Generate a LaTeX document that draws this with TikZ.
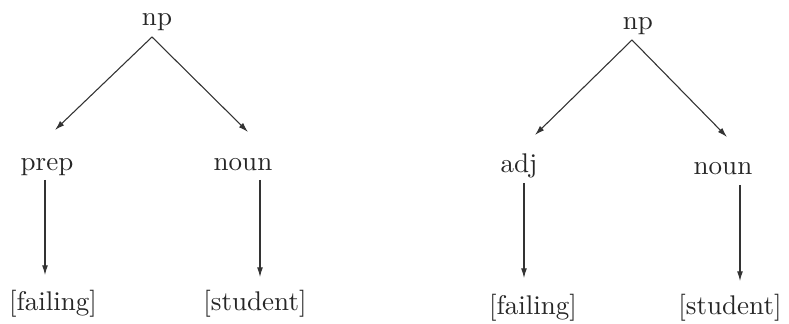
\documentclass[tikz,border=0pt]{standalone}
\usetikzlibrary{arrows.meta}
\begin{document}
\begin{tikzpicture}[x=0.37pt,y=-0.37pt,
  lbl/.style={anchor=base,inner sep=0pt,font=\fontsize{10}{12}\selectfont,text=black!85},
  arr/.style={draw=black!80,line width=0.4pt,-{Latex[length=3.6pt,width=2.2pt]}}]
\useasboundingbox (0,0) rectangle (789,324);

% left tree
\node[lbl] (np1)   at (157,26)  {np};
\node[lbl] (prep)  at (47,171)  {prep};
\node[lbl] (noun1) at (243,171) {noun};
\node[lbl] (fail1) at (53,311)  {[failing]};
\node[lbl] (stud1) at (255,311) {[student]};

\draw[arr] ([shift={(-5,11)}]np1.base) -- ([shift={(8,-41)}]prep.base);
\draw[arr] ([shift={(-5,11)}]np1.base) -- ([shift={(5,-39)}]noun1.base);
\draw[arr] ([shift={(-2,9)}]prep.base) -- ([shift={(-8,-36)}]fail1.base);
\draw[arr] ([shift={(17,9)}]noun1.base) -- ([shift={(5,-34)}]stud1.base);

% right tree
\node[lbl] (np2)   at (638,30)  {np};
\node[lbl] (adj)   at (519,173) {adj};
\node[lbl] (noun2) at (723,175) {noun};
\node[lbl] (fail2) at (533,315) {[failing]};
\node[lbl] (stud2) at (730,315) {[student]};

\draw[arr] ([shift={(-6,10)}]np2.base) -- ([shift={(16,-38)}]adj.base);
\draw[arr] ([shift={(-6,10)}]np2.base) -- ([shift={(4,-38)}]noun2.base);
\draw[arr] ([shift={(5,10)}]adj.base) -- ([shift={(-9,-37)}]fail2.base);
\draw[arr] ([shift={(17,10)}]noun2.base) -- ([shift={(10,-34)}]stud2.base);
\end{tikzpicture}
\end{document}
